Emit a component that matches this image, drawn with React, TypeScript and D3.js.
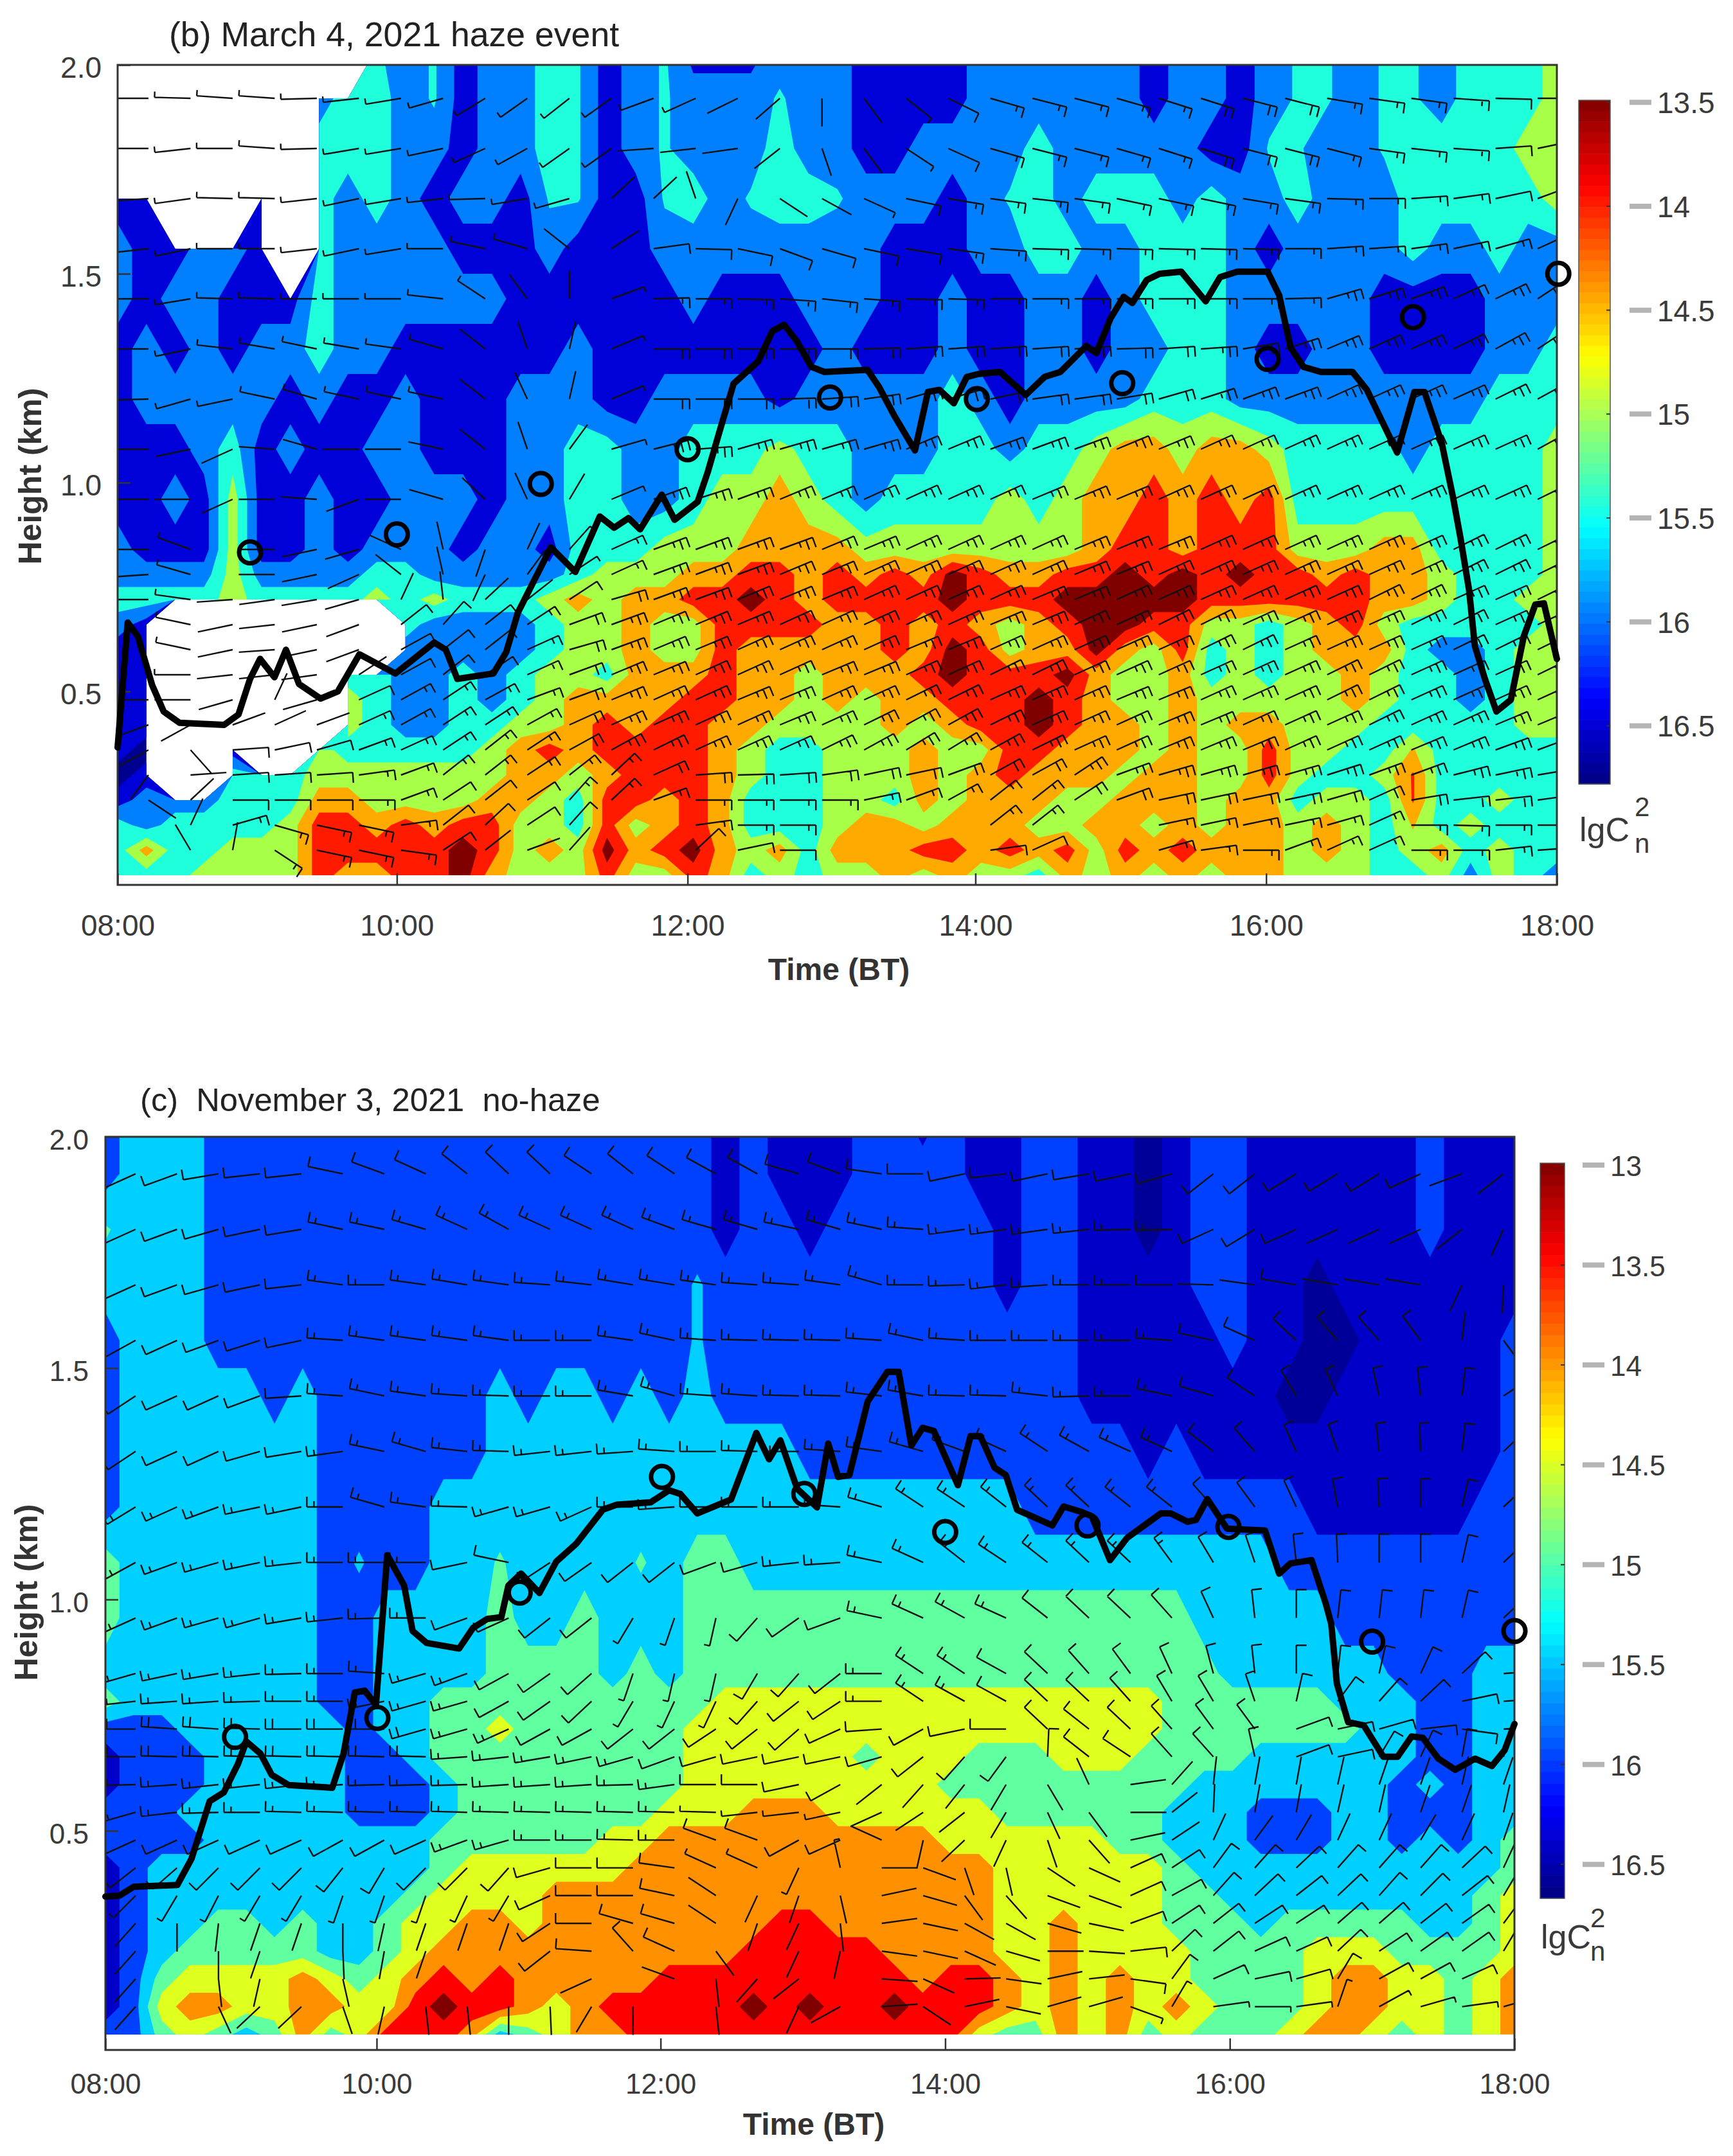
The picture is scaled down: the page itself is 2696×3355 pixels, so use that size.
import * as d3 from 'd3'
import { useEffect, useRef } from 'react'

const n = NaN

// radar range gates, top to bottom (km)
const gateHeights = [2.04, 1.92, 1.8, 1.68, 1.56, 1.44, 1.32, 1.2, 1.08, 0.96, 0.84, 0.78, 0.72, 0.66, 0.6, 0.54, 0.48, 0.42, 0.36, 0.3, 0.24, 0.18, 0.12, 0.06]
const windHeights = gateHeights.slice(1, -1)
const gridTimes = d3.range(51).map((j) => 8 + j * 0.2)

// lgCn2 read off the filled bands, one character per 12 min:
// digit d = middle of band d, letter (a = band 0, b = band 1...) = just inside the lower edge of that band, '.' = no data
const cn2RowsB = [
  '.........d 2d1223d12d 1112221111 2222221221 2dd2dd23334',
  '.......233 2d1223d12d 222d221111 2222221221 2dd2dd23334',
  '.......333 221223d12d 2223221122 2232222211 dd22dd33344',
  '11...1.323 21221dd11d 32d33d2221 2d32333232 23222333334',
  '211221.322 2211121112 2222222111 2233223332 12222322322',
  '2122111322 2222111111 2111222112 1122123332 22221111222',
  '1212122322 1111112111 1111121112 1122122332 11221111223',
  '1222221211 2111222112 2221222223 2122223332 22222222333',
  '1112312112 2111223322 3334332223 3233455455 43333233334',
  '1121411211 2221223322 3445432333 3434556565 63333333334',
  '2111411212 2212213334 4455554444 4444566566 64445533334',
  '2222422223 3222223444 5566565657 6556676767 66565543334',
  '3333433334 3433345455 6676566667 6667777766 66665543344',
  '21........ 3222234454 4666655656 5456776644 34564333334',
  '11........ 2222234454 4655555657 6455754634 34555322344',
  '11......33 2232344355 5655455567 6667544534 34454332344',
  '11......43 2232345555 6655454556 6676544544 44454332344',
  '11..1...43 2233445656 6554444545 6676554545 54443333344',
  '10..1..433 3334565666 6543344454 4665554544 644335f3333'.replace('335f3333', '33f33333'),
  '01..333444 4444554566 6543344454 5655545544 64334g33333',
  '1222333554 4445543665 6533344354 5554455545 53443g33433',
  '3233334665 6566443645 6533345545 5544554545 54543f34333',
  '3533444666 6676454756 7545355566 5656465655 54543453433',
  '3334444655 6675444644 6534344545 4435454545 54443342432',
]

const cn2RowsC = [
  '2333222222 2222222222 2212111221 2112211012 21111112111',
  '2333222222 2222222222 2212111222 2112211012 21111112111',
  'e333222222 2222222222 2212212222 2212211012 21111112111',
  '3333222222 2222222222 2d22222222 2212211112 21101111111',
  '2333222222 2222222222 2d22222222 2222211111 21100111112',
  '2333332322 2222323323 2322222222 2222211111 11001111112',
  '2333333322 2222333333 3333322222 2222222121 11111111112',
  '2333333322 2233333333 3333333333 3332222222 22211111122',
  '433333332d 2233e3333e 3443333333 3333333333 33222222222',
  '4333333322 3333433433 3444444444 4444444443 33332222222',
  '3333333322 3333444434 3444444444 4444444444 33333322233',
  '4333333322 3344444444 4455555555 5555555544 44443332233',
  '2223333332 3344544444 4555555555 5555555544 44444332233',
  '1222333332 2344444444 4555555455 5444555444 43333332233',
  '1222333332 2234444444 4555555555 4444444443 33333323233',
  '2223333332 2234444444 5556665555 5544444433 32223322233',
  '2222333333 3344444455 6666666666 5555554433 32223323234',
  '1233333333 3345555556 6666666666 6655555543 33333333334',
  '1233333333 3455556666 6666666666 6655555544 33333333345',
  '1233443433 4556656666 6666776666 6655655544 43444443345',
  '1234444433 4566666666 6667777766 6655655554 44455544445',
  '1245555654 5676766666 7777777776 7765656554 44456655456',
  '1256655665 5787765677 7778787787 7765656565 44456655456',
  '2245434645 7776345667 7777777777 7544656454 44566545456',
]

// wind: direction the barb staff points to (deg) and half-feather count, one value per barb
const windDirB = [
  [270, 272, 275, 275, 268, 262, 258, 250, 232, 228, 225, 228, 245, 240, 238, 222, 180, 150, 135, 122, 110, 108, 108, 110, 112, 112, 108, 108, 102, 100, 100, 95, 92, 90],
  [270, 262, 270, 275, 268, 258, 258, 255, 240, 235, 228, 228, 265, 262, 260, 225, 165, 150, 130, 120, 110, 108, 108, 110, 112, 112, 108, 108, 108, 100, 98, 95, 85, 75],
  [265, 260, 272, 272, 262, 255, 258, 262, 268, 258, 250, 40, 40, 345, 200, 130, 125, 120, 105, 102, 100, 98, 100, 105, 105, 105, 102, 100, 92, 90, 85, 80, 75, 65],
  [262, 255, 270, 270, 262, 255, 258, 270, 285, 290, 315, 50, 80, 92, 105, 115, 110, 105, 102, 100, 95, 92, 92, 92, 92, 92, 92, 90, 85, 85, 80, 75, 70, 60],
  [270, 258, 272, 272, 270, 270, 270, 278, 310, 330, 0, 65, 88, 90, 92, 95, 98, 95, 92, 92, 90, 90, 90, 90, 90, 90, 90, 88, 70, 68, 65, 60, 58, 50],
  [270, 255, 278, 282, 285, 282, 280, 290, 315, 345, 10, 62, 90, 90, 90, 90, 90, 88, 85, 85, 85, 85, 85, 88, 85, 85, 78, 68, 62, 60, 60, 58, 55, 50],
  [268, 250, 255, 285, 290, 285, 285, 285, 315, 340, 10, 62, 90, 90, 90, 88, 85, 80, 70, 70, 75, 80, 80, 78, 70, 68, 65, 65, 60, 60, 60, 60, 58, 55],
  [270, 255, 240, 275, 290, 270, 270, 285, 315, 345, 30, 70, 72, 85, 70, 70, 70, 70, 62, 62, 65, 65, 65, 62, 62, 60, 60, 60, 60, 60, 60, 60, 60, 55],
  [270, 270, 240, 270, 275, 245, 270, 290, 320, 340, 25, 62, 65, 68, 65, 62, 62, 60, 60, 60, 60, 62, 62, 62, 60, 60, 60, 60, 60, 60, 60, 60, 60, 58],
  [270, 295, n, 270, 255, 250, 300, 350, 195, 20, 35, 60, 65, 65, 65, 65, 62, 62, 60, 60, 60, 60, 62, 62, 62, 60, 60, 60, 60, 60, 60, 58, 58, 58],
  [265, 290, n, 270, 255, 240, 315, 350, 200, 30, 50, 60, 65, 65, 65, 62, 62, 60, 60, 60, 60, 60, 62, 62, 60, 60, 60, 60, 60, 60, 60, 58, 58, 58],
  [270, 280, 265, 260, 258, 250, 20, 355, 40, 45, 50, 70, 65, 65, 62, 62, 62, 60, 60, 60, 60, 62, 62, 60, 60, 60, 60, 60, 60, 58, 58, 60, 60, 58],
  [n, 285, 255, 262, 255, 245, 45, 35, 45, 50, 65, 65, 62, 62, 62, 60, 60, 60, 60, 60, 62, 62, 60, 60, 58, 58, 60, 60, 60, 60, 58, 58, 60, 60],
  [n, 285, 255, 265, 255, 245, 55, 45, 45, 60, 70, 65, 62, 62, 60, 60, 60, 60, 62, 62, 60, 60, 60, 60, 60, 58, 58, 60, 60, 60, 60, 58, 58, 58],
  [n, 270, 262, 262, 260, 50, 55, 45, 50, 60, 65, 62, 62, 60, 60, 60, 62, 62, 60, 60, 58, 58, 60, 60, 60, 60, 60, 60, 58, 58, 60, 60, 60, 58],
  [270, 270, 250, 20, 250, 60, 55, 50, 55, 65, 65, 62, 60, 60, 62, 62, 60, 60, 58, 58, 60, 60, 60, 62, 62, 60, 60, 60, 58, 58, 60, 60, 60, 60],
  [245, 235, 65, 60, 65, 60, 55, 50, 50, 55, 60, 60, 60, 60, 60, 62, 60, 58, 55, 55, 58, 60, 60, 60, 62, 62, 60, 60, 60, 58, 60, 60, 62, 62],
  [235, 145, 85, 75, 70, 65, 60, 50, 45, 50, 55, 55, 58, 60, 60, 60, 58, 55, 52, 52, 55, 58, 60, 60, 62, 62, 62, 60, 60, 60, 62, 62, 65, 65],
  [210, 85, 85, 85, 85, 80, 65, 45, 45, 50, 45, 40, 60, 85, 88, 85, 80, 75, 75, 65, 55, 55, 50, 65, 70, 70, 70, 70, 68, 65, 65, 72, 75, 78],
  [130, 40, 90, 90, 90, 90, 65, 50, 45, 50, 35, 40, 65, 90, 90, 90, 90, 75, 65, 55, 45, 45, 50, 65, 75, 75, 75, 75, 70, 60, 78, 82, 82, 80],
  [n, 20, 70, 110, 105, 105, 80, 45, 40, 50, 35, n, n, 80, 90, 90, n, n, n, n, 45, 45, n, n, 75, 75, 75, 75, 70, 60, 90, 92, 90, 90],
  [n, 335, 8, 130, 105, 105, 100, 50, 45, 65, 35, n, n, 40, 75, 90, n, n, n, n, 80, 60, n, n, 70, 80, 90, 65, 60, 60, 90, 90, 82, 85],
]

const windSpeedB = [
  '1111111111111100001233333444333322',
  '1111111111110000001233333444333322',
  '1111111111100000012333333333333322',
  '1111111111002222222333333333333333',
  '1111111110013333333333333333555555',
  '1111111100014444444444444555555555',
  '1111111100014444444444444555555555',
  '0000000000015555555555555555555555',
  '0000000000015555555555555555555555',
  '0100000000135555555555555555555555',
  '0100000000135555555555555555555555',
  '1100000000245555555555555555555555',
  '0100002223455555555555555555555555',
  '0100002223455555555555555555555555',
  '0100002223455555555555555555555555',
  '0000023333455555555555555555555555',
  '0000033333455555555555555555555555',
  '0022233333455555555555555555555555',
  '0022233333334444444444555555555555',
  '0022233222333333333333444444444444',
  '0033333222223333333333333333333333',
  '0003333200002222222222333333333333',
]

const windDirC = [
  [240, 245, 258, 262, 262, 285, 295, 300, 315, 320, 320, 310, 315, 310, 305, 305, 290, 295, 280, 270, 255, 262, 255, 258, 255, 250, 225, 225, 232, 232, 232, 240, 245, 225],
  [240, 245, 250, 255, 258, 285, 285, 290, 300, 305, 300, 300, 300, 295, 290, 290, 285, 290, 285, 275, 260, 260, 260, 262, 268, 268, 240, 232, 240, 240, 240, 240, 225, 200],
  [240, 245, 250, 255, 262, 280, 270, 280, 282, 280, 275, 278, 282, 282, 280, 275, 275, 280, 290, 270, 268, 262, 265, 270, 270, 270, 272, 280, 282, 282, 282, 282, 200, 182],
  [235, 240, 245, 248, 255, 275, 280, 280, 280, 280, 270, 270, 280, 285, 275, 272, 272, 272, 275, 285, 275, 270, 270, 270, 270, 275, 285, 300, 320, 325, 325, 330, 5, 150],
  [230, 240, 240, 245, 265, 275, 285, 280, 275, 272, 270, 270, 282, 290, 275, 275, 272, 272, 278, 282, 272, 272, 278, 268, 270, 285, 290, 310, 335, 340, 350, 355, 5, 50],
  [230, 240, 240, 250, 258, 260, 285, 290, 278, 272, 262, 262, 265, 275, 270, 272, 270, 275, 280, 290, 295, 300, 310, 305, 300, 300, 315, 325, 340, 345, 355, 358, 5, 40],
  [232, 240, 245, 255, 255, 270, 290, 280, 272, 250, 250, 240, 270, 265, 270, 270, 270, 275, 290, 310, 310, 315, 320, 320, 315, 315, 325, 330, 340, 352, 358, 0, 10, 40],
  [235, 245, 250, 255, 262, 270, 270, 270, 255, 285, 230, 228, 225, 225, 245, 250, 262, 265, 285, 300, 315, 310, 315, 320, 320, 330, 335, 345, 355, 358, 0, 0, 10, 40],
  [240, 245, 250, 250, 258, 262, 268, 270, 245, 240, 225, 225, 205, 195, 190, 215, 228, 245, 285, 300, 305, 300, 315, 320, 320, 325, 340, 355, 0, 5, 5, 5, 10, 40],
  [250, 255, 258, 262, 268, 270, 275, 250, 245, 235, 228, 222, 195, 190, 190, 205, 215, 225, 270, 310, 310, 305, 320, 325, 330, 340, 348, 355, 0, 5, 10, 20, 40, 85],
  [262, 265, 265, 268, 270, 270, 255, 250, 250, 235, 228, 220, 205, 200, 200, 215, 225, 230, 270, 310, 305, 305, 320, 320, 325, 335, 335, 345, 10, 30, 35, 40, 75, 85],
  [270, 275, 275, 272, 270, 270, 270, 250, 250, 240, 235, 235, 225, 225, 230, 225, 222, 240, 265, 235, 255, 270, 320, 315, 320, 325, 330, 330, 65, 75, 70, 82, 100, 85],
  [270, 272, 272, 272, 272, 272, 272, 272, 265, 262, 258, 255, 250, 245, 250, 255, 255, 255, 250, 225, 215, 210, 2, 315, 310, 325, 325, 350, 65, 75, 25, 20, 8, 10],
  [268, 265, 262, 262, 262, 265, 268, 268, 268, 265, 265, 265, 268, 260, 270, 270, 255, 235, 225, 215, 212, 205, 155, 340, 80, 35, 5, 8, 8, 10, 15, 15, 10, 15],
  [250, 262, 268, 270, 272, 272, 272, 272, 272, 272, 272, 272, 272, 272, 272, 262, 262, 255, 240, 230, 225, 205, 160, 150, 90, 45, 2, 8, 8, 10, 10, 15, 15, 10],
  [240, 240, 240, 240, 240, 235, 235, 240, 245, 250, 270, 270, 272, 270, 295, 295, 235, 240, 300, 190, 220, 200, 165, 145, 75, 50, 20, 30, 25, 20, 20, 25, 20, 15],
  [225, 222, 218, 218, 218, 212, 205, 218, 218, 215, 250, 270, 270, 280, 300, 300, 200, 350, 90, 115, 165, 170, 130, 120, 60, 50, 30, 35, 40, 35, 35, 35, 40, 20],
  [218, 205, 202, 205, 205, 195, 195, 195, 200, 205, 240, 270, 270, 285, 310, 200, 195, 170, 75, 110, 150, 145, 115, 115, 60, 55, 35, 40, 45, 40, 35, 38, 45, 25],
  [215, 180, 185, 195, 195, 180, 190, 195, 195, 195, 230, 270, 290, 290, 310, 195, 200, 175, 80, 105, 125, 125, 110, 105, 65, 50, 45, 50, 50, 42, 42, 45, 48, 30],
  [215, n, 180, 195, n, 178, 188, 195, n, n, 225, 275, 325, 300, 150, n, 200, 190, 100, 105, 120, 110, 90, 95, 82, 40, 45, 60, 60, 40, 50, 48, 48, 25],
  [215, n, 175, 190, n, 170, n, n, n, n, n, 240, n, 295, 175, 215, 225, n, 95, 120, 88, 100, 75, 82, 100, 30, 60, 75, 70, 25, 55, 55, 60, n],
  [215, n, 160, 220, 220, 165, 190, 175, 175, 180, 178, 205, 180, n, 175, n, 200, 235, 85, 130, 75, 105, 70, 70, 115, 25, 80, 90, 80, 15, 55, 70, 80, 70],
]

const windSpeedC = [
  '2222222222222222222222222222222200',
  '2222233333333333333333333322200000',
  '2222233333333333333333333200200000',
  '2222233333333333333333333322222200',
  '2222233333333333333333333322222220',
  '2222233333333333333333333322222220',
  '3333333333333333333333333322222220',
  '3333333322222222333333333322222220',
  '3333333322221112223333222222222222',
  '3333333332221112223332222222222222',
  '3333333332221112223332222222222222',
  '4444444433222222222222222222222222',
  '4444444433333222222222222222222222',
  '3333333333333322220000000000000000',
  '3333333333333311110000000000000000',
  '2222222233333322220000000000000000',
  '2222222222222211110000002222222222',
  '1111111111222200000000002222222222',
  '0000000000222200000000002222222222',
  '0000000000222200000000002222222222',
  '0000000000000000000000002222222222',
  '0000000000000000000000001111111111',
]

// mixing layer height (thick line) and sonde values (circles)
const blhTimesB = [8, 8.07, 8.14, 8.24, 8.32, 8.43, 8.74, 8.84, 8.92, 8.99, 9.09, 9.17, 9.26, 9.41, 9.53, 9.68, 9.93, 10.2, 10.28, 10.36, 10.61, 10.7, 10.78, 11.01, 11.18, 11.35, 11.45, 11.55, 11.63, 11.78, 11.87, 12.03, 12.1, 12.18, 12.28, 12.45, 12.55, 12.63, 12.72, 12.82, 12.91, 13.21, 13.29, 13.4, 13.54, 13.63, 13.71, 13.81, 13.9, 13.98, 14.13, 14.31, 14.44, 14.55, 14.73, 14.8, 14.9, 14.99, 15.05, 15.15, 15.24, 15.39, 15.56, 15.66, 15.78, 15.99, 16.07, 16.15, 16.24, 16.36, 16.58, 16.68, 16.89, 17.01, 17.08, 17.2, 17.28, 17.33, 17.39, 17.43, 17.5, 17.58, 17.68, 17.77, 17.85, 17.91, 18]
const blhHeightsB = [0.366, 0.665, 0.632, 0.515, 0.452, 0.425, 0.42, 0.445, 0.53, 0.578, 0.534, 0.6, 0.518, 0.483, 0.5, 0.589, 0.543, 0.617, 0.6, 0.53, 0.543, 0.594, 0.688, 0.845, 0.786, 0.919, 0.892, 0.915, 0.888, 0.971, 0.911, 0.954, 1.025, 1.12, 1.237, 1.29, 1.363, 1.378, 1.338, 1.277, 1.265, 1.27, 1.229, 1.158, 1.077, 1.217, 1.222, 1.19, 1.253, 1.26, 1.265, 1.21, 1.253, 1.265, 1.327, 1.31, 1.394, 1.445, 1.43, 1.485, 1.5, 1.505, 1.434, 1.492, 1.505, 1.505, 1.449, 1.323, 1.277, 1.265, 1.265, 1.222, 1.072, 1.217, 1.217, 1.095, 0.962, 0.868, 0.743, 0.609, 0.53, 0.452, 0.48, 0.632, 0.708, 0.711, 0.578]
const sondeTimesB = [8.92, 9.94, 10.94, 11.96, 12.95, 13.97, 14.98, 15.99, 17, 18.01]
const sondeHeightsB = [0.833, 0.876, 0.997, 1.08, 1.204, 1.2, 1.238, 1.296, 1.396, 1.5]

const blhTimesC = [8, 8.1, 8.2, 8.51, 8.61, 8.74, 8.84, 8.94, 9, 9.1, 9.18, 9.3, 9.61, 9.69, 9.77, 9.84, 9.92, 10, 10.12, 10.18, 10.28, 10.51, 10.61, 10.71, 10.81, 10.86, 10.95, 11.08, 11.2, 11.34, 11.53, 11.63, 11.87, 12, 12.08, 12.2, 12.44, 12.62, 12.71, 12.79, 12.91, 13.05, 13.13, 13.2, 13.28, 13.41, 13.55, 13.63, 13.72, 13.8, 13.88, 14.05, 14.14, 14.21, 14.31, 14.39, 14.47, 14.72, 14.8, 14.92, 15.0, 15.13, 15.25, 15.49, 15.56, 15.68, 15.74, 15.82, 15.96, 16.23, 16.33, 16.41, 16.56, 16.66, 16.7, 16.74, 16.82, 16.93, 17.07, 17.17, 17.27, 17.35, 17.46, 17.58, 17.72, 17.84, 17.93, 18]
const blhHeightsC = [0.358, 0.36, 0.379, 0.383, 0.439, 0.564, 0.583, 0.644, 0.693, 0.667, 0.621, 0.599, 0.593, 0.667, 0.799, 0.803, 0.772, 1.096, 1.03, 0.932, 0.906, 0.894, 0.939, 0.958, 0.962, 1.03, 1.056, 1.014, 1.082, 1.12, 1.194, 1.205, 1.21, 1.236, 1.228, 1.186, 1.216, 1.36, 1.303, 1.344, 1.239, 1.199, 1.337, 1.265, 1.269, 1.428, 1.492, 1.492, 1.333, 1.371, 1.364, 1.247, 1.353, 1.353, 1.285, 1.269, 1.194, 1.16, 1.201, 1.19, 1.18, 1.085, 1.133, 1.186, 1.186, 1.168, 1.172, 1.217, 1.153, 1.149, 1.056, 1.078, 1.085, 0.992, 0.947, 0.818, 0.735, 0.728, 0.66, 0.66, 0.704, 0.701, 0.656, 0.632, 0.656, 0.64, 0.674, 0.731]
const sondeTimesC = [8.92, 9.93, 10.94, 11.95, 12.96, 13.96, 14.97, 15.97, 16.99, 18]
const sondeHeightsC = [0.703, 0.744, 1.015, 1.265, 1.228, 1.146, 1.16, 1.157, 0.909, 0.932]

const timeLabels = ['08:00', '10:00', '12:00', '14:00', '16:00', '18:00']
const timeTicksB = [8, 9.94, 11.96, 13.96, 15.98, 18]
const timeTicksC = [8, 9.925, 11.94, 13.96, 15.98, 18]
const heightTicks = [0.5, 1, 1.5, 2]

const bandLevelsB = [-17, -16.5, -16, -15.5, -15, -14.5, -14, -13.5]
const bandColorsB = ['#000090', '#0000d8', '#0080ff', '#1fffdc', '#a8ff48', '#ffaa00', '#ff1a00', '#800000']
const bandLevelsC = [-17, -16.5, -16, -15.5, -15, -14.5, -14, -13.5, -13]
const bandColorsC = ['#000098', '#0000c8', '#0040ff', '#00d0ff', '#60ffa0', '#dfff1f', '#ff9000', '#ff0000', '#800000']
const colorbarTicksB = [13.5, 14, 14.5, 15, 15.5, 16, 16.5]
const colorbarTicksC = [13, 13.5, 14, 14.5, 15, 15.5, 16, 16.5]

const jet = d3
  .scaleLinear<string>()
  .domain([0, 0.125, 0.375, 0.625, 0.875, 1])
  .range(['#000080', '#0000ff', '#00ffff', '#ffff00', '#ff0000', '#800000'])

const FONT = '"Liberation Sans", Arial, sans-serif'
const TEXT = '#3a3a3a'

const panelB = {
  id: 'b',
  rows: cn2RowsB,
  levels: bandLevelsB,
  colors: bandColorsB,
  windDir: windDirB,
  windSpeed: windSpeedB,
  windStep: 0.2925,
  blhTimes: blhTimesB,
  blhHeights: blhHeightsB,
  sondeTimes: sondeTimesB,
  sondeHeights: sondeHeightsB,
  timeTicks: timeTicksB,
  colorbarTicks: colorbarTicksB,
  colorbarDomain: [13.49, 16.78],
  x: [183, 2422],
  y: [1401, 101],
  frameBottom: 1377,
  title: '(b) March 4, 2021 haze event',
  titleAt: [263, 72],
  titleSize: 53.6,
  tickSize: 46,
  xPad: 46,
  yPad: 25,
  yLabelX: 64,
  yLabelY: 741,
  xLabelAt: [1305, 1525],
  bar: { x: 2456, w: 49, top: 156, bottom: 1220, tick0: 2535, tick1: 2569, textX: 2578, fs: 46 },
  lg: { x: 2457, y: 1309, supX: 2543, supY: 1270, subX: 2543, subY: 1327 },
}

const panelC = {
  id: 'c',
  rows: cn2RowsC,
  levels: bandLevelsC,
  colors: bandColorsC,
  windDir: windDirC,
  windSpeed: windSpeedC,
  windStep: 0.2942,
  blhTimes: blhTimesC,
  blhHeights: blhHeightsC,
  sondeTimes: sondeTimesC,
  sondeHeights: sondeHeightsC,
  timeTicks: timeTicksC,
  colorbarTicks: colorbarTicksC,
  colorbarDomain: [12.99, 16.67],
  x: [164, 2356],
  y: [3209, 1769],
  frameBottom: 3190,
  title: '(c)  November 3, 2021  no-haze',
  titleAt: [218, 1729],
  titleSize: 50.7,
  tickSize: 44,
  xPad: 37,
  yPad: 26,
  yLabelX: 58,
  yLabelY: 2478,
  xLabelAt: [1266, 3322],
  bar: { x: 2396, w: 38, top: 1810, bottom: 2954, tick0: 2462, tick1: 2496, textX: 2505, fs: 44 },
  lg: { x: 2397, y: 3032, supX: 2474, supY: 2999, subX: 2474, subY: 3051 },
}

function cellValue(c: string) {
  if (c === '.') return NaN
  if (c >= 'a') return -17 + 0.5 * (c.charCodeAt(0) - 97) + 0.06
  return -(16.75 - 0.5 * +c)
}

function barbPath(p: any, x: d3.ScaleLinear<number, number>, y: d3.ScaleLinear<number, number>) {
  const path = d3.path()
  p.windDir.forEach((row: number[], r: number) => {
    row.forEach((dir, k) => {
      if (Number.isNaN(dir)) return
      const ax = x(8.214 + k * p.windStep)
      const ay = y(windHeights[r])
      const th = (dir * Math.PI) / 180
      const dx = 56 * Math.sin(th)
      const dy = -44 * Math.cos(th)
      const len = Math.hypot(dx, dy)
      const ux = dx / len
      const uy = dy / len
      path.moveTo(ax, ay)
      path.lineTo(ax + dx, ay + dy)
      let half = +p.windSpeed[r][k] || 0
      let along = 0
      while (half > 0) {
        const fl = half >= 2 ? 16 : 9
        const bx = ax + dx - ux * along
        const by = ay + dy - uy * along
        path.moveTo(bx, by)
        path.lineTo(bx - uy * fl, by + ux * fl)
        along += 11
        half -= 2
      }
    })
  })
  return path.toString()
}

function Panel({ p }: { p: any }) {
  const xAxisRef = useRef<SVGGElement>(null)
  const yAxisRef = useRef<SVGGElement>(null)

  const x = d3.scaleLinear().domain([8, 18]).range(p.x)
  const y = d3.scaleLinear().domain([0, 2]).range(p.y)
  const cols = gridTimes.length
  const rows = gateHeights.length

  const values = p.rows.flatMap((r: string) => Array.from(r.replace(/ /g, '')).map(cellValue))
  const bands = d3.contours().size([cols, rows]).thresholds(p.levels)(values)

  // contour coordinates sit half a cell off the grid samples
  const colTime = d3.scaleLinear().domain(d3.range(cols)).range(gridTimes)
  const rowHeight = d3.scaleLinear().domain(d3.range(rows)).range(gateHeights)
  const toPlot = d3.geoTransform({
    point(cx: number, cy: number) {
      this.stream.point(x(colTime(cx - 0.5)), y(rowHeight(cy - 0.5)))
    },
  })
  const bandPath = d3.geoPath(toPlot)

  const blh = d3
    .line<number>()
    .x((t) => x(t))
    .y((_, i) => y(p.blhHeights[i]))

  const bar = p.bar
  const barY = d3.scaleLinear().domain(p.colorbarDomain).range([bar.top, bar.bottom])
  const barSteps = d3.range(64)
  const stepH = (bar.bottom - bar.top) / 64

  useEffect(() => {
    const xAxis = d3
      .axisBottom(x)
      .tickValues(p.timeTicks)
      .tickFormat((_, i) => timeLabels[i])
      .tickSize(-18)
      .tickPadding(p.xPad)
    const yAxis = d3
      .axisLeft(y)
      .tickValues(heightTicks)
      .tickFormat(d3.format('.1f') as any)
      .tickSize(-20)
      .tickPadding(p.yPad)
    const gx = d3.select(xAxisRef.current!).call(xAxis as any)
    const gy = d3.select(yAxisRef.current!).call(yAxis as any)
    for (const g of [gx, gy]) {
      g.select('.domain').remove()
      g.selectAll('line').attr('stroke', '#333').attr('stroke-width', 2.5)
      g.selectAll('text')
        .attr('fill', TEXT)
        .style('font-family', FONT)
        .style('font-size', `${p.tickSize}px`)
    }
    gy.selectAll('text').attr('y', 5)
  }, [])

  const top = y(2)
  return (
    <g>
      <defs>
        <clipPath id={`data-${p.id}`}>
          <rect x={p.x[0]} y={top} width={p.x[1] - p.x[0]} height={y(0.06) - top} />
        </clipPath>
        <clipPath id={`frame-${p.id}`}>
          <rect x={p.x[0]} y={top} width={p.x[1] - p.x[0]} height={p.frameBottom - top} />
        </clipPath>
      </defs>
      <g clipPath={`url(#data-${p.id})`}>
        {bands.map((b, i) => (
          <path key={i} d={bandPath(b) ?? ''} fill={p.colors[i]} />
        ))}
      </g>
      <path
        d={barbPath(p, x, y)}
        clipPath={`url(#frame-${p.id})`}
        fill="none"
        stroke="#111"
        strokeWidth={2.4}
      />
      <rect
        x={p.x[0]}
        y={top}
        width={p.x[1] - p.x[0]}
        height={p.frameBottom - top}
        fill="none"
        stroke="#333"
        strokeWidth={3}
      />
      <g ref={xAxisRef} transform={`translate(0,${p.frameBottom})`} />
      <g ref={yAxisRef} transform={`translate(${p.x[0]},0)`} />
      <path
        d={blh(p.blhTimes) ?? ''}
        fill="none"
        stroke="#000"
        strokeWidth={10}
        strokeLinejoin="round"
        strokeLinecap="round"
      />
      {p.sondeTimes.map((t: number, i: number) => (
        <circle key={t} cx={x(t)} cy={y(p.sondeHeights[i])} r={17} fill="none" stroke="#000" strokeWidth={7} />
      ))}
      <text x={p.titleAt[0]} y={p.titleAt[1]} fontFamily={FONT} fontSize={p.titleSize} fill="#222" xmlSpace="preserve">
        {p.title}
      </text>
      <text
        transform={`translate(${p.yLabelX},${p.yLabelY}) rotate(-90)`}
        textAnchor="middle"
        fontFamily={FONT}
        fontWeight="bold"
        fontSize={50}
        fill="#333"
      >
        Height (km)
      </text>
      <text x={p.xLabelAt[0]} y={p.xLabelAt[1]} textAnchor="middle" fontFamily={FONT} fontWeight="bold" fontSize={48} fill="#333">
        Time (BT)
      </text>
      {barSteps.map((s) => (
        <rect key={s} x={bar.x} y={bar.top + s * stepH} width={bar.w} height={stepH + 0.6} fill={jet(1 - (s + 0.5) / 64)} />
      ))}
      <rect x={bar.x} y={bar.top} width={bar.w} height={bar.bottom - bar.top} fill="none" stroke="#555" strokeWidth={1.5} />
      {p.colorbarTicks.map((v: number) => (
        <g key={v}>
          <line x1={bar.x + bar.w - 6} x2={bar.x + bar.w} y1={barY(v)} y2={barY(v)} stroke="#333" strokeWidth={2} />
          <line x1={bar.tick0} x2={bar.tick1} y1={barY(v)} y2={barY(v)} stroke="#b4b4b4" strokeWidth={8} />
          <text x={bar.textX} y={barY(v) + 17} fontFamily={FONT} fontSize={bar.fs} fill={TEXT}>
            {v}
          </text>
        </g>
      ))}
      <text x={p.lg.x} y={p.lg.y} fontFamily={FONT} fontSize={52} fill={TEXT}>
        lgC
      </text>
      <text x={p.lg.supX} y={p.lg.supY} fontFamily={FONT} fontSize={42} fill={TEXT}>
        2
      </text>
      <text x={p.lg.subX} y={p.lg.subY} fontFamily={FONT} fontSize={42} fill={TEXT}>
        n
      </text>
    </g>
  )
}

export default function App() {
  return (
    <svg
      width={2696}
      height={3355}
      viewBox="0 0 2696 3355"
      style={{ position: 'absolute', left: 0, top: 0, background: '#fff' }}
    >
      <Panel p={panelB} />
      <Panel p={panelC} />
    </svg>
  )
}
